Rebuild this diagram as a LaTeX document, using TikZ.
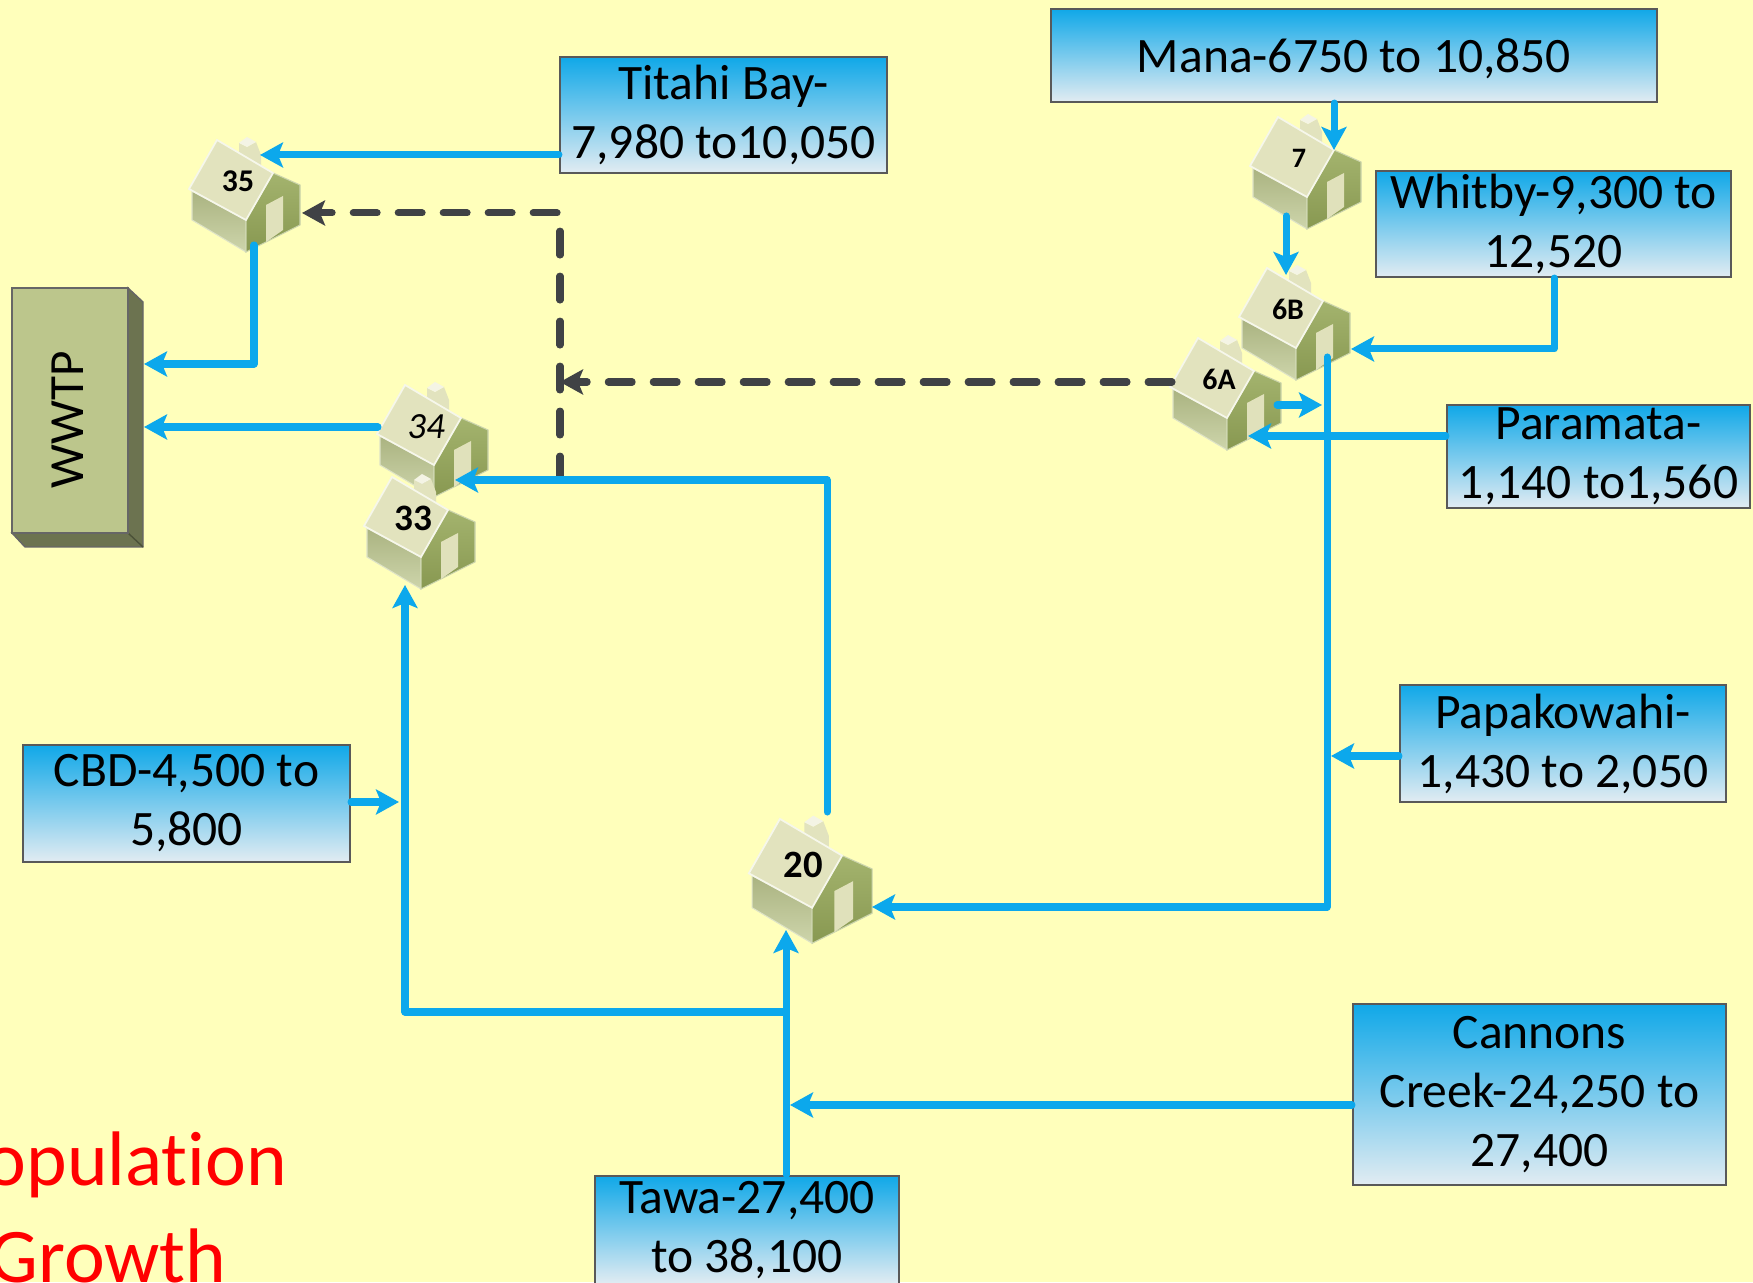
\documentclass[tikz,border=0pt]{standalone}
\usepackage{fontspec}
\setmainfont[Ligatures=NoCommon]{Carlito}
\usepackage{xcolor}
\usetikzlibrary{arrows.meta}
\definecolor{pagebg}{HTML}{FFFFBB}
\definecolor{flowblue}{HTML}{0CA8EC}
\definecolor{dashgrey}{HTML}{404245}
\definecolor{boxtop}{HTML}{10A8E8}
\definecolor{boxbottom}{HTML}{E2ECF2}
\definecolor{roofcol}{HTML}{E2E3BE}
\definecolor{wallcol}{HTML}{BDC78F}
\definecolor{gablecol}{HTML}{97A95A}
\definecolor{plantcol}{HTML}{BCC68C}
\definecolor{plantdark}{HTML}{6C7350}
\tikzset{
	boxnode/.style={draw=black!65,line width=.6pt,top color=boxtop,bottom color=boxbottom,align=center,inner sep=0pt,
		font=\fontsize{14.1}{16.8}\selectfont,execute at begin node={\rule{0pt}{12.3pt}}},
	flow/.style={draw=flowblue,line width=2pt,line cap=round,line join=round,-{Stealth[length=.23cm,width=.25cm,inset=.05cm]}},
	dashflow/.style={draw=dashgrey,line width=2pt,line cap=round,dash pattern=on 6.8pt off 6pt,-{Stealth[length=.23cm,width=.25cm,inset=.05cm]}},
	growthtext/.style={text=red,inner sep=0pt,font=\fontsize{22}{26.4}\selectfont},
	pics/house/.style={code={
		%Chimney goes first, the roof hides its foot
		\fill[roofcol] (-.06,.52)--(.02,.48)--(.11,.53)--(.16,.40)--(.16,.20)--(-.06,.30)--cycle;
		\fill[white!60!roofcol] (-.06,.52)--(.02,.58)--(.11,.53)--(.02,.48)--cycle;
		\shadedraw[top color=wallcol!90!black,bottom color=white!25!wallcol,draw=white!50!wallcol,line width=.3pt] (-.53,.04)--(.01,-.25)--(.01,-.57)--(-.53,-.25)--cycle;
		\shadedraw[top color=white!12!gablecol,bottom color=gablecol!90!black,draw=white!50!gablecol,line width=.3pt] (.01,-.25)--(.28,.22)--(.55,.10)--(.55,-.30)--(.01,-.57)--cycle;
		\fill[roofcol!97!gablecol] (.21,-.10)--(.38,-.01)--(.38,-.35)--(.21,-.47)--cycle;
		\fill[roofcol,draw=white!70!roofcol,line width=.5pt] (-.28,.55)--(-.56,.06)--(.01,-.25)--(.28,.22)--cycle;
		\node[inner sep=0pt] (-txt) at (-.07,.135) {#1};
	}}
}
\begin{document}
\begin{tikzpicture}
		\useasboundingbox (0,0) rectangle (17.53,12.82);
		\fill[pagebg] (0,0) rectangle (17.53,12.82);
		%Plant
		\fill[plantdark,draw=black!60,line width=.4pt] (1.28,9.94)--(1.43,9.80)--(1.43,7.35)--(.25,7.35)--(.12,7.49)--(1.28,7.49)--cycle;
		\draw[plantdark!70!black,line width=.4pt] (1.28,7.49)--(1.43,7.35);
		\node[draw=black!60,line width=.4pt,fill=plantcol,minimum width=1.16cm,minimum height=2.45cm,inner sep=0pt] (wwtp) at (.70,8.715) {};
		\node[rotate=90,inner sep=0pt,font=\fontsize{14}{16.5}\selectfont] (wwtptxt) at (.68,8.62) {WWTP};
		%Houses
		\pic (h35) at (2.45,10.87) {house={\fontsize{9}{9}\selectfont\bfseries 35}};
		\pic (h34) at (4.33,8.42) {house={\fontsize{10.5}{10}\selectfont\itshape 34}};
		\pic (h33) at (4.20,7.50) {house={\fontsize{10.6}{10}\selectfont\bfseries 33}};
		\pic (h7) at (13.06,11.10) {house={\fontsize{8}{8}\selectfont\bfseries 7}};
		\pic (h6B) at (12.95,9.59) {house={\fontsize{8.5}{8}\selectfont\bfseries 6B}};
		\pic (h6A) at (12.26,8.89) {house={\fontsize{8.5}{8}\selectfont\bfseries 6A}};
		\pic[scale=1.11] (h20) at (8.11,4.02) {house={\fontsize{11}{10}\selectfont\bfseries 20}};
		%Catchment boxes
		\node[boxnode,minimum width=6.06cm,minimum height=.93cm] (mana) at (13.54,12.265) {\raisebox{.9pt}{Mana-6750 to 10,850}};
		\node[boxnode,minimum width=3.27cm,minimum height=1.16cm] (titahi) at (7.235,11.67) {Titahi Bay-\\7,980 to10,050};
		\node[boxnode,minimum width=3.55cm,minimum height=1.06cm] (whitby) at (15.535,10.58) {Whitby-9,300 to\\12,520};
		\node[boxnode,minimum width=3.03cm,minimum height=1.03cm] (paramata) at (15.985,8.255) {Paramata-\\1,140 to1,560};
		\node[boxnode,minimum width=3.26cm,minimum height=1.17cm] (papakowahi) at (15.63,5.385) {Papakowahi-\\1,430 to 2,050};
		\node[boxnode,minimum width=3.27cm,minimum height=1.17cm] (cbd) at (1.865,4.785) {CBD-4,500 to\\5,800};
		\node[boxnode,minimum width=3.73cm,minimum height=1.81cm] (cannons) at (15.395,1.875) {Cannons\\Creek-24,250 to\\27,400};
		\node[boxnode,minimum width=3.04cm,minimum height=1.08cm] (tawa) at (7.47,.52) {Tawa-27,400\\to 38,100};
		\node[growthtext] (population) at (1.17,1.17) {Population};
		\node[growthtext] (growth) at (1.08,.26) {Growth};
		%Ports on houses and corners of the lines
		\coordinate (in35) at (2.60,11.27);
		\coordinate (dash35) at (3.02,10.69);
		\coordinate (out35) at (2.54,10.37);
		\coordinate (wwtpa) at (1.44,9.18);
		\coordinate (out34) at (3.78,8.55);
		\coordinate (wwtpb) at (1.44,8.55);
		\coordinate (in34) at (4.55,8.02);
		\coordinate (out20) at (8.27,4.70);
		\coordinate (split) at (5.60,8.02);
		\coordinate (in33) at (4.05,6.97);
		\coordinate (cbdjoin) at (3.99,4.80);
		\coordinate (corner33) at (4.05,2.70);
		\coordinate (in20) at (7.86,3.52);
		\coordinate (tawajoin) at (7.86,2.70);
		\coordinate (cannonsjoin) at (7.90,1.77);
		\coordinate (in7) at (13.34,11.32);
		\coordinate (out7) at (12.86,10.66);
		\coordinate (in6B) at (12.86,10.07);
		\coordinate (east6B) at (13.51,9.33);
		\coordinate (whitbyleg) at (15.54,9.33);
		\coordinate (trunktop) at (13.27,9.25);
		\coordinate (trunkfoot) at (13.27,3.75);
		\coordinate (east20) at (8.72,3.75);
		\coordinate (papajoin) at (13.31,5.26);
		\coordinate (in6A) at (12.48,8.46);
		\coordinate (out6A) at (12.77,8.77);
		\coordinate (trunkjoin) at (13.22,8.77);
		\coordinate (dash6A) at (11.72,9.00);
		\coordinate (dashjoin) at (5.60,9.00);
		%Dashed lines
		\draw[dashflow] (split)--(split |- dash35)--(dash35);
		\draw[dashflow] (dash6A)--(dashjoin);
		%Blue lines
		\draw[flow] (titahi.west |- in35)--(in35);
		\draw[flow] (out35)--(out35 |- wwtpa)--(wwtpa);
		\draw[flow] (out34)--(wwtpb);
		\draw[flow] (out20)--(out20 |- in34)--(in34);
		\draw[flow] (cbd.east |- cbdjoin)--(cbdjoin);
		\draw[flow] (tawajoin)--(corner33)--(in33);
		\draw[flow] (tawa.north -| in20)--(in20);
		\draw[flow] (cannons.west |- cannonsjoin)--(cannonsjoin);
		\draw[flow] (mana.south -| in7)--(in7);
		\draw[flow] (out7)--(in6B);
		\draw[flow] (whitby.south -| whitbyleg)--(whitbyleg)--(east6B);
		\draw[flow] (trunktop)--(trunkfoot)--(east20);
		\draw[flow] (papakowahi.west |- papajoin)--(papajoin);
		\draw[flow] (paramata.west |- in6A)--(in6A);
		\draw[flow] (out6A)--(trunkjoin);
\end{tikzpicture}
\end{document}
